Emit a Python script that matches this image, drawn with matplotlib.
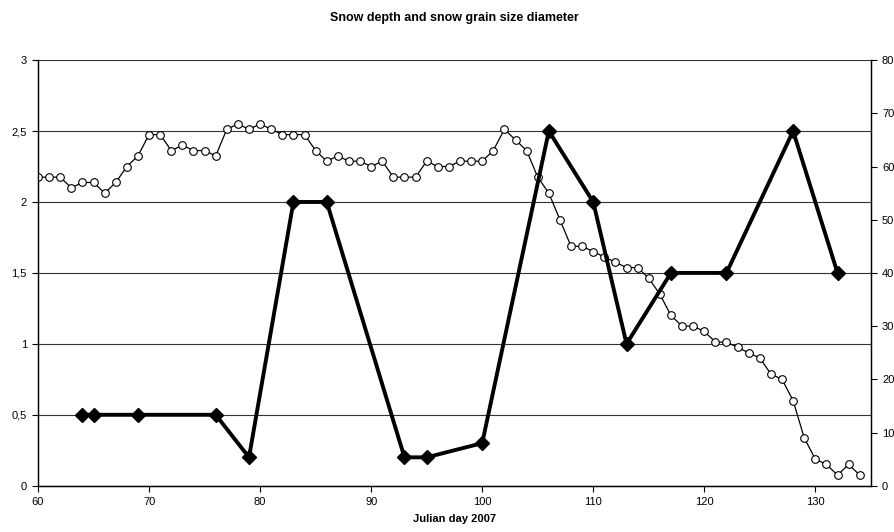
import matplotlib.pyplot as plt
from matplotlib.ticker import FuncFormatter

plt.rcParams['font.family'] = ['Liberation Sans', 'DejaVu Sans']

# snow depth (right axis), one reading per day from day 60 to 134
depth_days = list(range(60, 135))
depth = [58, 58, 58, 56, 57, 57, 55, 57, 60, 62,
         66, 66, 63, 64, 63, 63, 62, 67, 68, 67,
         68, 67, 66, 66, 66, 63, 61, 62, 61, 61,
         60, 61, 58, 58, 58, 61, 60, 60, 61, 61,
         61, 63, 67, 65, 63, 58, 55, 50, 45, 45,
         44, 43, 42, 41, 41, 39, 36, 32, 30, 30,
         29, 27, 27, 26, 25, 24, 21, 20, 16, 9,
         5, 4, 2, 4, 2]

# grain size diameter (left axis)
grain_days = [64, 65, 69, 76, 79, 83, 86, 93, 95, 100, 106, 110, 113, 117, 122, 128, 132]
grain = [0.5, 0.5, 0.5, 0.5, 0.2, 2, 2, 0.2, 0.2, 0.3, 2.5, 2, 1, 1.5, 1.5, 2.5, 1.5]

fig = plt.figure(figsize=(8.95, 5.32), dpi=100)
ax = fig.add_axes([0.0425, 0.087, 0.9305, 0.8])
ax2 = ax.twinx()

# grid on the left scale
ax.set_ylim(0, 3)
ax.set_yticks([0, 0.5, 1, 1.5, 2, 2.5, 3])
ax.yaxis.set_major_formatter(FuncFormatter(lambda v, p: ('%g' % v).replace('.', ',')))
ax.grid(axis='y', color='#333333', linewidth=0.8)
ax.set_axisbelow(True)

ax2.plot(depth_days, depth, color='black', linewidth=0.9, marker='o', markersize=5.5,
         markerfacecolor='white', markeredgecolor='black', markeredgewidth=0.8, zorder=2)
ax2.set_ylim(0, 80)
ax2.set_yticks(range(0, 81, 10))

# thick grain line drawn over the depth line
ax3 = ax.twinx()
ax3.set_ylim(0, 3)
ax3.plot(grain_days, grain, color='black', linewidth=2.8, marker='D', markersize=7,
         markerfacecolor='black', zorder=3)
ax3.axis('off')

ax.set_xlim(60, 135)
ax.set_xticks(range(60, 131, 10))

for a in (ax, ax2):
    a.spines['top'].set_visible(False)
    a.tick_params(labelsize=8, length=4, width=0.8, colors='black', pad=4)
    for s in a.spines.values():
        s.set_linewidth(0.9)

ax.set_title('Snow depth and snow grain size diameter', fontsize=9, fontweight='bold', pad=28)
ax.set_xlabel('Julian day 2007', fontsize=8, fontweight='bold', labelpad=5)

fig.savefig('out.png', dpi=100)
